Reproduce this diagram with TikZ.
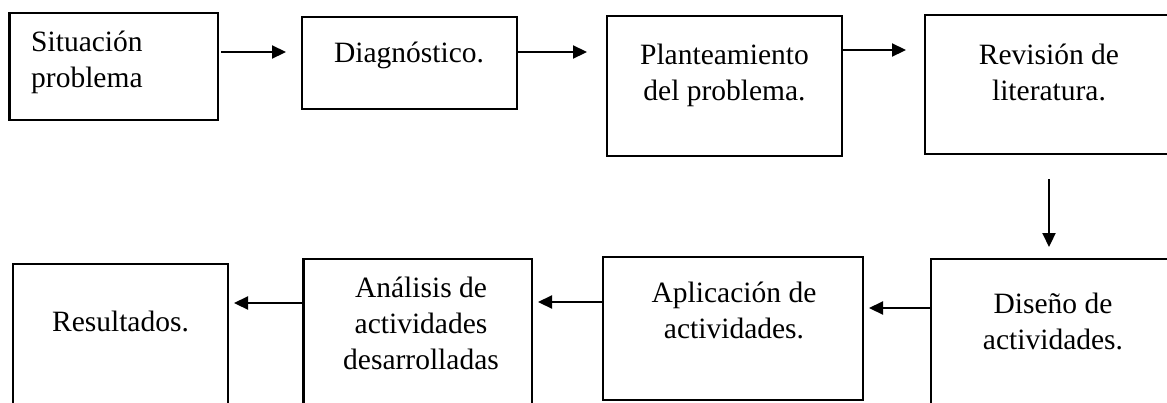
\documentclass[tikz,border=0pt]{standalone}
\usepackage{fontspec}
\setmainfont{Liberation Serif}
\usetikzlibrary{arrows.meta}
\tikzset{
  box/.style={draw=black, line width=2.2pt, inner sep=0pt, outer sep=0pt, anchor=north west},
  txt/.style={inner sep=0pt, font=\fontsize{29.5}{36}\selectfont},
  arr/.style={line width=2.2pt, -{Triangle[length=14pt,width=13pt]}}
}
\begin{document}
\begin{tikzpicture}[x=1pt,y=-1pt]
\useasboundingbox (0,0) rectangle (1167,402);
\clip (0,0) rectangle (1167,402);
% boxes
\node[box, minimum width=208.5pt, minimum height=107pt] (b1) at (9.5,13) {};
\node[box, minimum width=215pt, minimum height=92pt] (b2) at (302,17) {};
\node[box, minimum width=235pt, minimum height=140pt] (b3) at (607,16) {};
\node[box, minimum width=255pt, minimum height=139pt] (b4) at (925,15) {};
\node[box, minimum width=249pt, minimum height=161pt] (b5) at (931,259) {};
\node[box, minimum width=260pt, minimum height=143pt] (b6) at (603,257) {};
\node[box, minimum width=228.5pt, minimum height=161pt] (b7) at (303.5,259) {};
\node[box, minimum width=215pt, minimum height=156pt] (b8) at (13,264) {};
% texts
\node[txt, anchor=base west] (t1) at (31,51) {\begin{tabular}[t]{@{}l@{}}Situación\\problema\end{tabular}};
\node[txt, anchor=base] (t2) at (409,62) {Diagnóstico.};
\node[txt, anchor=base] (t3) at (724.5,64) {\begin{tabular}[t]{@{}c@{}}Planteamiento\\del problema.\end{tabular}};
\node[txt, anchor=base] (t4) at (1049,64) {\begin{tabular}[t]{@{}c@{}}Revisión de\\literatura.\end{tabular}};
\node[txt, anchor=base] (t5) at (1053,313) {\begin{tabular}[t]{@{}c@{}}Diseño de\\actividades.\end{tabular}};
\node[txt, anchor=base] (t6) at (734,302) {\begin{tabular}[t]{@{}c@{}}Aplicación de\\actividades.\end{tabular}};
\node[txt, anchor=base] (t7) at (421,297) {\begin{tabular}[t]{@{}c@{}}Análisis de\\actividades\\desarrolladas\end{tabular}};
\node[txt, anchor=base] (t8) at (120.5,331) {Resultados.};
% connectors
\draw[arr, shorten <=3pt, shorten >=16pt] ([yshift=14.5pt]b1.east) -- ([yshift=11pt]b2.west);
\draw[arr, shorten >=20pt] ([yshift=11pt]b2.east) -- ([yshift=34pt]b3.west);
\draw[arr, shorten >=19pt] ([yshift=36pt]b3.east) -- ([yshift=34.5pt]b4.west);
\draw[arr, shorten <=25pt, shorten >=12pt] ([xshift=-3.5pt]b4.south) -- ([xshift=-6.5pt]b5.north);
\draw[arr, shorten >=6pt] ([yshift=31.5pt]b5.west) -- ([yshift=20.5pt]b6.east);
\draw[arr, shorten >=6pt] ([yshift=26.5pt]b6.west) -- ([yshift=37.5pt]b7.east);
\draw[arr, shorten >=6pt] ([yshift=36.5pt]b7.west) -- ([yshift=39pt]b8.east);
\end{tikzpicture}
\end{document}
